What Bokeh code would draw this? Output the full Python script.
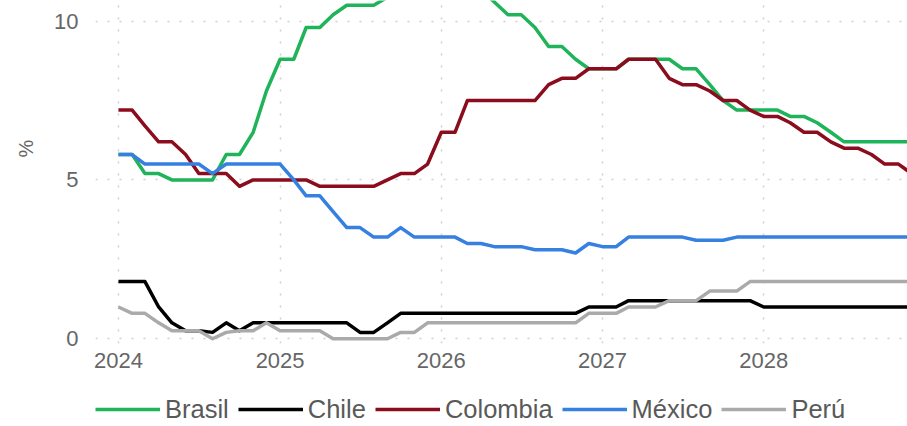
from datetime import datetime
import pandas as pd
from bokeh.plotting import figure
from bokeh.layouts import column
from bokeh.models import (Range1d, FixedTicker, Legend, LegendItem, Title,
                          DatetimeTickFormatter)
from bokeh.embed import file_html
from bokeh.resources import INLINE

# ---- data (monthly, Jan 2024 - Dec 2028) ----
months = pd.date_range("2024-01-01", periods=60, freq="MS")

brasil = [5.8, 5.8, 5.2, 5.2, 5.0, 5.0, 5.0, 5.0, 5.8, 5.8, 6.5, 7.8,
          8.8, 8.8, 9.8, 9.8, 10.2, 10.5, 10.5, 10.5, 10.75, 11.0, 11.25, 11.25,
          11.25, 11.25, 11.25, 11.0, 10.6, 10.2, 10.2, 9.8, 9.2, 9.2, 8.8, 8.5,
          8.5, 8.5, 8.8, 8.8, 8.8, 8.8, 8.5, 8.5, 8.0, 7.5, 7.2, 7.2,
          7.2, 7.2, 7.0, 7.0, 6.8, 6.5, 6.2, 6.2, 6.2, 6.2, 6.2, 6.2]

chile = [1.8, 1.8, 1.8, 1.0, 0.5, 0.25, 0.25, 0.2, 0.5, 0.25, 0.5, 0.5,
         0.5, 0.5, 0.5, 0.5, 0.5, 0.5, 0.2, 0.2, 0.5, 0.8, 0.8, 0.8,
         0.8, 0.8, 0.8, 0.8, 0.8, 0.8, 0.8, 0.8, 0.8, 0.8, 0.8, 1.0,
         1.0, 1.0, 1.2, 1.2, 1.2, 1.2, 1.2, 1.2, 1.2, 1.2, 1.2, 1.2,
         1.0, 1.0, 1.0, 1.0, 1.0, 1.0, 1.0, 1.0, 1.0, 1.0, 1.0, 1.0]

colombia = [7.2, 7.2, 6.7, 6.2, 6.2, 5.8, 5.2, 5.2, 5.2, 4.8, 5.0, 5.0,
            5.0, 5.0, 5.0, 4.8, 4.8, 4.8, 4.8, 4.8, 5.0, 5.2, 5.2, 5.5,
            6.5, 6.5, 7.5, 7.5, 7.5, 7.5, 7.5, 7.5, 8.0, 8.2, 8.2, 8.5,
            8.5, 8.5, 8.8, 8.8, 8.8, 8.2, 8.0, 8.0, 7.8, 7.5, 7.5, 7.2,
            7.0, 7.0, 6.8, 6.5, 6.5, 6.2, 6.0, 6.0, 5.8, 5.5, 5.5, 5.2]

mexico = [5.8, 5.8, 5.5, 5.5, 5.5, 5.5, 5.5, 5.2, 5.5, 5.5, 5.5, 5.5,
          5.5, 5.0, 4.5, 4.5, 4.0, 3.5, 3.5, 3.2, 3.2, 3.5, 3.2, 3.2,
          3.2, 3.2, 3.0, 3.0, 2.9, 2.9, 2.9, 2.8, 2.8, 2.8, 2.7, 3.0,
          2.9, 2.9, 3.2, 3.2, 3.2, 3.2, 3.2, 3.1, 3.1, 3.1, 3.2, 3.2,
          3.2, 3.2, 3.2, 3.2, 3.2, 3.2, 3.2, 3.2, 3.2, 3.2, 3.2, 3.2]

peru = [1.0, 0.8, 0.8, 0.5, 0.25, 0.25, 0.25, 0.0, 0.2, 0.25, 0.25, 0.5,
        0.25, 0.25, 0.25, 0.25, 0.0, 0.0, 0.0, 0.0, 0.0, 0.2, 0.2, 0.5,
        0.5, 0.5, 0.5, 0.5, 0.5, 0.5, 0.5, 0.5, 0.5, 0.5, 0.5, 0.8,
        0.8, 0.8, 1.0, 1.0, 1.0, 1.2, 1.2, 1.2, 1.5, 1.5, 1.5, 1.8,
        1.8, 1.8, 1.8, 1.8, 1.8, 1.8, 1.8, 1.8, 1.8, 1.8, 1.8, 1.8]

names = ["Brasil", "Chile", "Colombia", "México", "Perú"]
colors = ["#1fb35a", "#000000", "#8b0c1c", "#3580e0", "#aaaaaa"]
values = [brasil, chile, colombia, mexico, peru]

year_ticks = [2024, 2025, 2026, 2027, 2028]
y_ticks = [0, 5, 10]

FONT = "Liberation Sans"

# ---------------- main chart ----------------
p = figure(width=907, height=381, output_backend="svg", toolbar_location=None,
           x_axis_type="datetime",
           x_range=Range1d(datetime(2023, 11, 10), datetime(2028, 11, 21, 14)),
           y_range=Range1d(-0.15, 10.65),
           min_border_left=95, min_border_right=0, min_border_top=0,
           min_border_bottom=38)
p.outline_line_color = None
p.background_fill_color = "white"

tick_ms = [pd.Timestamp(f"{y}-01-01").timestamp() * 1000 for y in year_ticks]
p.xaxis.ticker = FixedTicker(ticks=tick_ms)
p.xaxis.formatter = DatetimeTickFormatter(years="%Y", months="%Y", days="%Y",
                                          hours="%Y", minutes="%Y")
p.yaxis.ticker = FixedTicker(ticks=y_ticks)

for ax in (p.xaxis, p.yaxis):
    ax.axis_line_color = None
    ax.major_tick_line_color = None
    ax.minor_tick_line_color = None
    ax.major_tick_out = 0
    ax.major_tick_in = 0
    ax.minor_tick_out = 0
    ax.minor_tick_in = 0
    ax.major_label_text_font = FONT
    ax.major_label_text_font_size = "22px"
    ax.major_label_text_color = "#666666"
p.yaxis.major_label_standoff = 17
p.xaxis.major_label_standoff = 9

for g in (p.xgrid, p.ygrid):
    g.grid_line_color = "#cfcfcf"
    g.grid_line_width = 1.5
    g.grid_line_dash = "2 10"

for name, vals, col in zip(names, values, colors):
    p.line(months, vals, line_color=col, line_width=3.5, line_join="round")

pct = Title(text="%", align="left", offset=186, vertical_align="middle",
            standoff=27, text_font=FONT, text_font_size="20px",
            text_font_style="normal", text_color="#666666")
p.add_layout(pct, "left")

# ---------------- legend strip ----------------
# the key lines reuse the series but fall outside this strip's range (not drawn)
q = figure(width=907, height=45, output_backend="svg", toolbar_location=None,
           x_range=Range1d(0, 1), y_range=Range1d(0, 1),
           x_axis_location=None, y_axis_location=None,
           min_border_left=0, min_border_right=0, min_border_top=0,
           min_border_bottom=0)
q.outline_line_color = None
q.grid.visible = False

key_renderers = [q.line(months, vals, line_color=col, line_width=3.5)
                 for vals, col in zip(values, colors)]
legend = Legend(items=[LegendItem(label=n, renderers=[r]) for n, r in zip(names, key_renderers)],
                orientation="horizontal", location=(0, 2),
                glyph_width=65, glyph_height=30, label_standoff=5, spacing=9,
                padding=0, margin=0, border_line_color=None,
                background_fill_alpha=0,
                label_text_font=FONT, label_text_font_size="25.5px",
                label_text_color="#595959")
q.add_layout(legend, "center")

layout = column(p, q, spacing=0)
open("out.html", "w").write(file_html(layout, INLINE))
